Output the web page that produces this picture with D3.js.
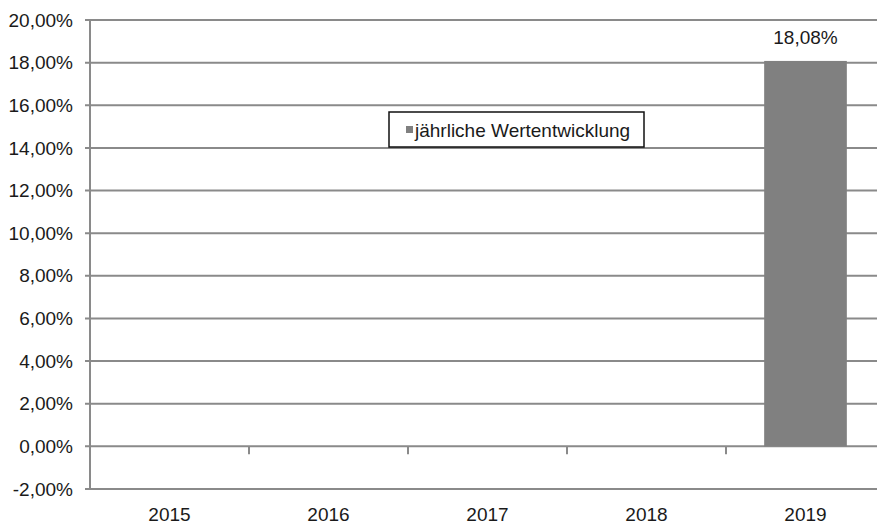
<!DOCTYPE html>
<html lang="de">
<head>
<meta charset="UTF-8">
<title>jährliche Wertentwicklung</title>
<script src="https://d3js.org/d3.v7.min.js"></script>
<style>
  body { margin: 0; background: #fff; }
  svg { display: block; font-family: "Liberation Sans", Arial, sans-serif; }
  .lbl { font-size: 19px; fill: #1a1a1a; }
</style>
</head>
<body>
<svg id="chart" width="877" height="524"></svg>
<script>
// Daten
const years = ["2015", "2016", "2017", "2018", "2019"];
const values = [null, null, null, null, 18.08];
const yTicks = [-2, 0, 2, 4, 6, 8, 10, 12, 14, 16, 18, 20];
const seriesName = "jährliche Wertentwicklung";

const plotL = 90, plotR = 885, plotT = 20, plotB = 489;
const svg = d3.select("#chart");
// deutsches Format, normaler Bindestrich als Minus
const fmt = v => (v < 0 ? "-" : "") + Math.abs(v).toFixed(2).replace(".", ",") + "%";

const x = d3.scaleBand().domain(years).range([plotL, plotR]).padding(0);
const y = d3.scaleLinear().domain([-2, 20]).range([plotB, plotT]);

// Gitterlinien
svg.append("g").selectAll("line")
  .data(yTicks)
  .join("line")
  .attr("x1", plotL - 5).attr("x2", plotR)
  .attr("y1", d => y(d)).attr("y2", d => y(d))
  .attr("stroke", "#8a8a8a").attr("stroke-width", 2);

// y-Achse
svg.append("line")
  .attr("x1", plotL).attr("x2", plotL)
  .attr("y1", y(20)).attr("y2", y(-2))
  .attr("stroke", "#8a8a8a").attr("stroke-width", 2);

svg.append("g").selectAll("text")
  .data(yTicks)
  .join("text")
  .attr("class", "lbl")
  .attr("x", 73)
  .attr("y", d => y(d))
  .attr("dy", "0.35em")
  .attr("text-anchor", "end")
  .text(fmt);

// Kategorie-Ticks auf der 0-Linie
svg.append("g").selectAll("line")
  .data(years.slice(1))
  .join("line")
  .attr("x1", d => x(d)).attr("x2", d => x(d))
  .attr("y1", y(0)).attr("y2", y(0) + 8)
  .attr("stroke", "#8a8a8a").attr("stroke-width", 2);

svg.append("g").selectAll("text")
  .data(years)
  .join("text")
  .attr("class", "lbl")
  .attr("x", d => x(d) + x.bandwidth() / 2)
  .attr("y", 521)
  .attr("text-anchor", "middle")
  .text(d => d);

// Balken
const data = years.map((yr, i) => ({ yr, v: values[i] })).filter(d => d.v != null);
const bw = x.bandwidth() * 0.52;

svg.append("g").selectAll("rect")
  .data(data)
  .join("rect")
  .attr("x", d => x(d.yr) + (x.bandwidth() - bw) / 2)
  .attr("width", bw)
  .attr("y", d => y(d.v))
  .attr("height", d => y(0) - y(d.v))
  .attr("fill", "#808080");

svg.append("g").selectAll("text")
  .data(data)
  .join("text")
  .attr("class", "lbl")
  .attr("x", d => x(d.yr) + x.bandwidth() / 2)
  .attr("y", d => y(d.v) - 17)
  .attr("text-anchor", "middle")
  .text(d => fmt(d.v));

// Legende
const lg = svg.append("g").attr("transform", "translate(389,112)");
lg.append("rect")
  .attr("width", 255).attr("height", 35)
  .attr("fill", "#fff").attr("stroke", "#111").attr("stroke-width", 1.5);
lg.append("rect")
  .attr("x", 17).attr("y", 14).attr("width", 7).attr("height", 7)
  .attr("fill", "#808080");
lg.append("text")
  .attr("class", "lbl")
  .attr("x", 26).attr("y", 18)
  .attr("dy", "0.35em")
  .text(seriesName);
</script>
</body>
</html>
